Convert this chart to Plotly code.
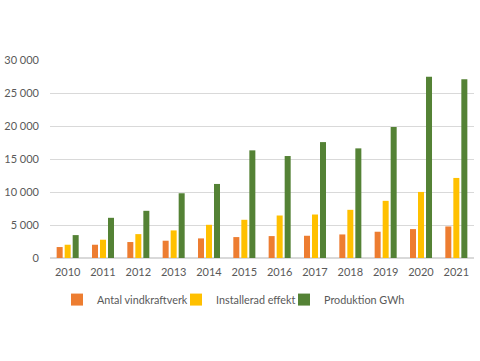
import plotly.graph_objects as go

years = ["2010", "2011", "2012", "2013", "2014", "2015", "2016", "2017", "2018", "2019", "2020", "2021"]
antal = [1660, 2010, 2420, 2620, 2970, 3170, 3320, 3370, 3570, 3980, 4380, 4780]
effekt = [2010, 2770, 3620, 4180, 5030, 5790, 6440, 6590, 7300, 8660, 10010, 12130]
produktion = [3470, 6090, 7150, 9810, 11220, 16310, 15450, 17560, 16610, 19830, 27480, 27080]

names = ["Antal vindkraftverk", "Installerad effekt", "Produktion GWh"]
colors = ["#ED7D31", "#FFC000", "#548235"]
legend_ids = ["legend", "legend2", "legend3"]
legend_px = [57, 176, 284]

fig = go.Figure()
for name, vals, c, lg in zip(names, [antal, effekt, produktion], colors, legend_ids):
    fig.add_trace(go.Bar(x=years, y=vals, name=name, legend=lg,
                         marker=dict(color=c, line=dict(width=0))))

legend_common = dict(orientation="h", xanchor="left", y=-0.21, yanchor="middle",
                     font=dict(size=10.8, color="#595959"), itemwidth=30,
                     bgcolor="rgba(0,0,0,0)")
layout_legends = {lg: dict(legend_common, x=(px - 50) / 424) for lg, px in zip(legend_ids, legend_px)}

fig.update_layout(
    width=480, height=361,
    margin=dict(l=50, r=6, t=60, b=103, autoexpand=False),
    paper_bgcolor="white", plot_bgcolor="white",
    barmode="group", bargap=0.32, bargroupgap=0.25,
    separators=", ",
    font=dict(family="Lato, Open Sans, sans-serif", size=11, color="#595959"),
    showlegend=True,
    **layout_legends,
)
fig.update_yaxes(range=[0, 30000], dtick=5000, tickformat=",d", showgrid=True,
                 gridcolor="#D9D9D9", gridwidth=1, zeroline=True, zerolinecolor="#D9D9D9",
                 showline=False, ticks="", ticklen=0, automargin=False, ticklabelstandoff=10,
                 tickfont=dict(size=11, color="#595959"))
fig.update_xaxes(showline=True, linecolor="#D9D9D9", linewidth=1, ticks="", automargin=False,
                 ticklabelstandoff=4, tickfont=dict(size=11, color="#595959"))

fig.write_html("out.html", config={"displayModeBar": False},
               post_script="document.body.style.margin='0';")
